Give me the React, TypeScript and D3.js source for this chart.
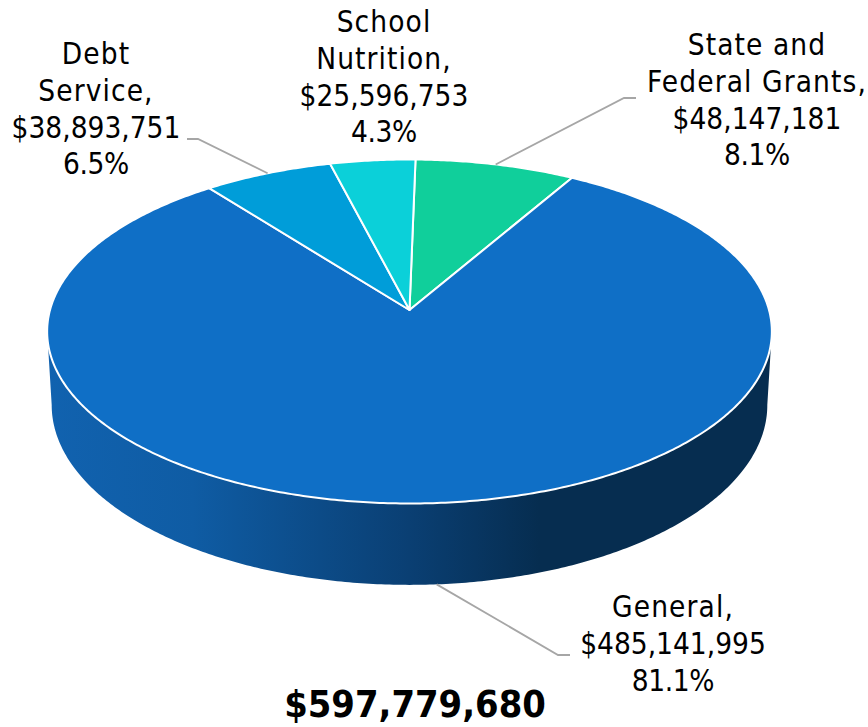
import * as d3 from "d3"

const W = 868
const H = 727

const categories = ["State and Federal Grants", "General", "Debt Service", "School Nutrition"]
const amounts = [48147181, 485141995, 38893751, 25596753]
const colors = ["#10CF9B", "#0F6FC6", "#009DD9", "#0BD0D9"]
const nameLines = [["State and", "Federal Grants,"], ["General,"], ["Debt", "Service,"], ["School", "Nutrition,"]]
const amountLabels = ["$48,147,181", "$485,141,995", "$38,893,751", "$25,596,753"]
const percentLabels = ["8.1%", "81.1%", "6.5%", "4.3%"]
const totalLabel = "$597,779,680"

// where each label sits, and the elbow of its leader line (null = no leader)
const labelPos = [
  { x: 757, y: 55, elbow: [624, 98], end: [636, 98] },
  { x: 673, y: 617, elbow: [558, 655], end: [570, 655] },
  { x: 96, y: 64, elbow: [198, 139], end: [187, 139] },
  { x: 384, y: 32, elbow: null, end: null },
]

const FONT = '"DejaVu Sans Condensed", "DejaVu Sans", sans-serif'
const START = (1.08 * Math.PI) / 180
const PERSP = 0.125 // fake perspective of the tilted disc
const LINE_H = 36.8

// top face and bottom rim of the disc
const topRim = { cx: 409.5, cy: 310, a: 169.3, b: 359.5 }
const bottomRim = { cx: 409.5, cy: 382.6, a: 177, b: 355 }

type Rim = typeof topRim

function project(rim: Rim, t: number): [number, number] {
  const u = Math.sin(t)
  const v = Math.cos(t)
  const d = 1 + PERSP * v
  return [rim.cx + (rim.b * u) / d, rim.cy - (rim.a * v) / d]
}

function sweep(t0: number, t1: number): number[] {
  const n = Math.max(2, Math.ceil(Math.abs(t1 - t0) / 0.01))
  return d3.range(n + 1).map((i) => t0 + ((t1 - t0) * i) / n)
}

const line = d3.line<[number, number]>()

export default function App() {
  const arcs = d3
    .pie<number>()
    .sort(null)
    .startAngle(START)
    .endAngle(START + 2 * Math.PI)(amounts)

  // Silhouette of the wall: from the left extreme around the bottom to the right extreme
  const tSide = Math.acos(-PERSP)
  const wall = [
    ...sweep(tSide, 2 * Math.PI - tSide).map((t) => project(bottomRim, t)),
    ...sweep(2 * Math.PI - tSide, tSide).map((t) => project(topRim, t)),
  ]

  const slices = arcs.map((a) => [
    [topRim.cx, topRim.cy] as [number, number],
    ...sweep(a.startAngle, a.endAngle).map((t) => project(topRim, t)),
  ])

  const anchors = arcs.map((a) => {
    const mid = (a.startAngle + a.endAngle) / 2
    return project(a.index === 1 ? bottomRim : topRim, mid)
  })

  return (
    <svg
      width={W}
      height={H}
      viewBox={`0 0 ${W} ${H}`}
      style={{ position: "absolute", left: 0, top: 0, background: "#fff" }}
      fontFamily={FONT}
    >
      <defs>
        <linearGradient id="wall" gradientUnits="userSpaceOnUse" x1={48} x2={771} y1={0} y2={0}>
          <stop offset="0" stopColor="#1162AF" />
          <stop offset="0.2" stopColor="#0F5CA4" />
          <stop offset="0.5" stopColor="#0A3F73" />
          <stop offset="0.68" stopColor="#062D50" />
          <stop offset="1" stopColor="#062D50" />
        </linearGradient>
      </defs>

      <path d={line(wall) + "Z"} fill="url(#wall)" />

      {slices.map((pts, i) => (
        <path
          key={categories[i]}
          d={line(pts) + "Z"}
          fill={colors[i]}
          stroke="#fff"
          strokeWidth={2}
          strokeLinejoin="round"
        />
      ))}

      {labelPos.map((p, i) =>
        p.elbow && p.end ? (
          <polyline
            key={categories[i]}
            points={[anchors[i], p.elbow, p.end].map((q) => q.join(",")).join(" ")}
            fill="none"
            stroke="#A6A6A6"
            strokeWidth={1.8}
          />
        ) : null
      )}

      {labelPos.map((p, i) => {
        const n = nameLines[i].length
        return (
          <text key={categories[i]} textAnchor="middle" fontSize={29.5} fill="#000">
            {nameLines[i].map((s, j) => (
              <tspan key={s} x={p.x} y={p.y + j * LINE_H} letterSpacing={1.1}>
                {s}
              </tspan>
            ))}
            <tspan x={p.x} y={p.y + n * LINE_H}>
              {amountLabels[i]}
            </tspan>
            <tspan x={p.x} y={p.y + (n + 1) * LINE_H} letterSpacing={-0.4}>
              {percentLabels[i]}
            </tspan>
          </text>
        )
      })}

      <text x={415} y={717} textAnchor="middle" fontSize={37.7} fontWeight={700} fill="#000">
        {totalLabel}
      </text>
    </svg>
  )
}
